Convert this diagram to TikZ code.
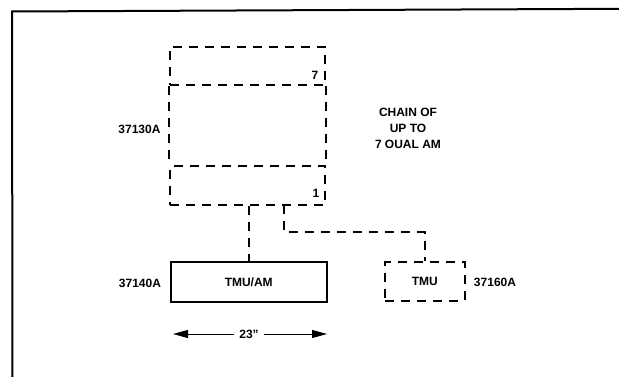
\documentclass[tikz,border=0pt]{standalone}
\usepackage{fontspec}
\setmainfont{Liberation Sans}
\usetikzlibrary{arrows.meta,calc}
\begin{document}
\begin{tikzpicture}[x=1pt,y=-1pt,
  lbl/.style={font=\bfseries\fontsize{12}{16}\selectfont, inner sep=0pt},
  dline/.style={line width=2pt, dash pattern=on 9pt off 7pt},
  dbox/.style={draw, dline, rectangle, inner sep=0pt},
  sbox/.style={draw, line width=2pt, rectangle, inner sep=0pt},
  dimarrow/.style={line width=1pt, -{Triangle[length=15pt,width=8pt]}}]
\useasboundingbox (0,0) rectangle (619,377);
% frame
\draw[line width=2pt] (12.5,377) -- (12,11.5) -- (619,8.8);
% stacked chain
\node[dbox, minimum width=155pt, minimum height=38pt] (box7) at (247.5,66) {};
\node[dbox, minimum width=155pt, minimum height=38.5pt] (box1) at (247.5,185.75) {};
\draw[dline] (box7.south west) -- (box1.north west);
\draw[dline] (box7.south east) -- (box1.north east);
\node[lbl] (n7) at (315,75) {7};
\node[lbl] (n1) at (316,193) {1};
\node[lbl] (l130) at (139.5,129) {37130A};
\node[lbl, align=center] (chain) at (408,128) {CHAIN OF\\UP TO\\7 OUAL AM};
% units
\node[sbox, minimum width=156.5pt, minimum height=40pt, lbl] (tmuam) at (248.75,282) {TMU/AM};
\node[dbox, minimum width=79.5pt, minimum height=38.5pt, lbl] (tmu) at (424.75,281.25) {TMU};
\node[lbl] (l140) at (140,283) {37140A};
\node[lbl] (l160) at (495,282) {37160A};
% connectors
\draw[dline] (box1.south -| tmuam.north) -- (tmuam.north);
\coordinate (t2) at (284.3,205);
\path (tmu.north) ++(0,-28.7) coordinate (bend);
\draw[dline] (t2) |- (bend) -- (tmu.north);
% dimension
\node[lbl, inner xsep=5pt] (dim) at (249,334) {23”};
\coordinate (dl) at (173,334);
\coordinate (dr) at (327,334);
\draw[dimarrow] (dim.west) -- (dl);
\draw[dimarrow] (dim.east) -- (dr);
\end{tikzpicture}
\end{document}
